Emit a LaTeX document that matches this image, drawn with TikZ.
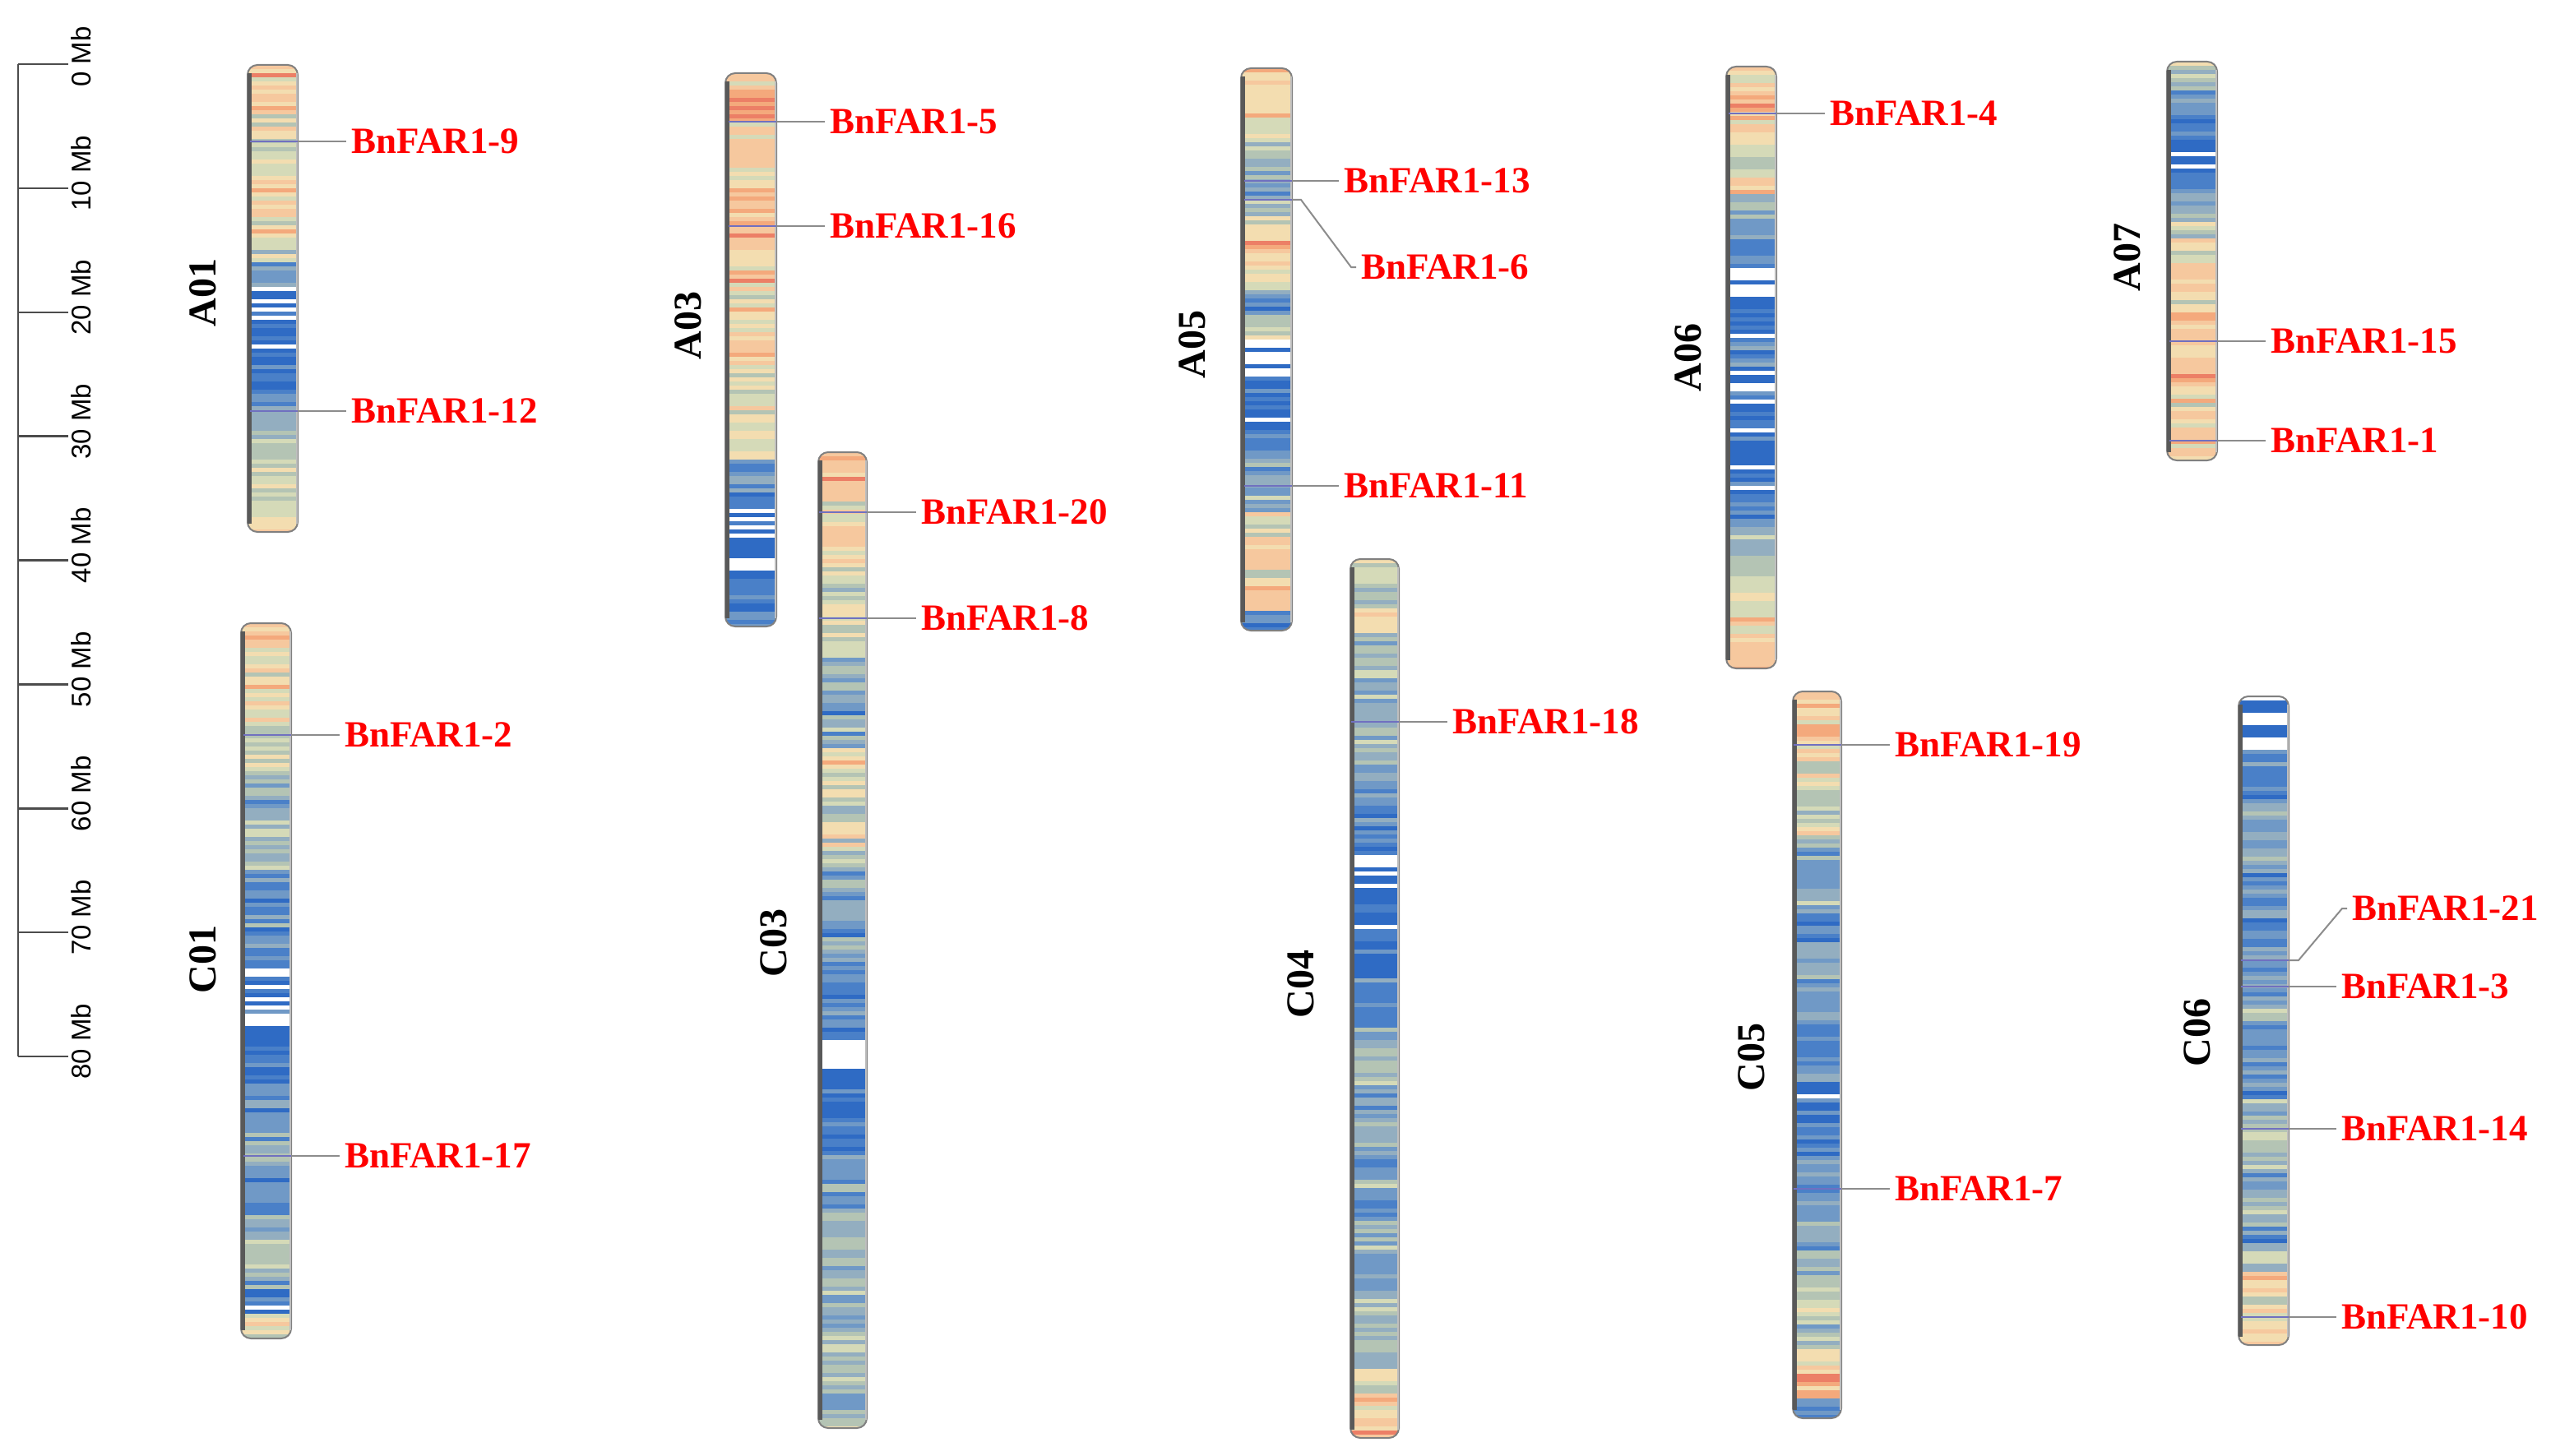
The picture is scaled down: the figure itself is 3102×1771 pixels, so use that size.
\documentclass[tikz,border=0pt]{standalone}
\usepackage{fontspec}
\setmainfont{Liberation Serif}
\newfontfamily\scalefnt{Liberation Sans}
\definecolor{t0}{HTML}{FFFFFF}
\definecolor{t1}{HTML}{2F6BC4}
\definecolor{t2}{HTML}{4A80C8}
\definecolor{t3}{HTML}{7099C6}
\definecolor{t4}{HTML}{93AEC0}
\definecolor{t5}{HTML}{B4C4B4}
\definecolor{t6}{HTML}{D5DAB8}
\definecolor{t7}{HTML}{F3DDB0}
\definecolor{t8}{HTML}{F6C89E}
\definecolor{t9}{HTML}{F4A97C}
\definecolor{t10}{HTML}{EC7F66}
\definecolor{genered}{HTML}{FF0000}
\definecolor{genemark}{HTML}{7070C0}
\tikzset{
  genelabel/.style={font=\fontsize{45}{50}\selectfont\bfseries, text=genered, anchor=west, inner xsep=6pt, inner ysep=2pt, outer sep=0pt},
  chromlabel/.style={font=\fontsize{48}{52}\selectfont\bfseries, rotate=90, inner sep=0pt},
  genelink/.style={draw=black!45, line width=2pt},
  genetick/.style={draw=genemark, line width=2pt},
  scaletxt/.style={font=\fontsize{33}{36}\selectfont\scalefnt, rotate=90, anchor=west, inner sep=0pt},
  scaleline/.style={draw=black!70, line width=2.5pt},
  chromedge/.style={draw=black!50, line width=2pt, rounded corners=12pt},
}
% #1 x0, #2 x1, #3 ytop, #4 ybot, #5 profile, #6 seed
\newcommand\chromosome[6]{%
  \foreach \tn [count=\n] in {#5} {\xdef\Lc{\n}}%
  \begin{scope}
    \pgfmathsetseed{#6}
    \clip[rounded corners=12pt] (#1,#3) rectangle (#2,#4);
    \pgfmathtruncatemacro\Nm{ceil((#4-#3)/5)-1}
    \foreach \i in {0,...,\Nm} {
      \pgfmathtruncatemacro\k{min(\Lc-1, floor(\i*\Lc/(\Nm+1)))}
      \pgfmathtruncatemacro\tn{{#5}[\k]}
      \pgfmathrandominteger{\r}{0}{19}
      \pgfmathtruncatemacro\jt{\r<1 ? -2 : (\r<5 ? -1 : (\r<15 ? 0 : (\r<19 ? 1 : 2)))}
      \pgfmathtruncatemacro\lo{\tn>=2 ? 1 : 0}
      \pgfmathtruncatemacro\cc{max(\lo,min(10,\tn+\jt))}
      \fill[t\cc] (#1,{#3+\i*5}) rectangle (#2,{#3+\i*5+5.4});
    }
  \end{scope}
  \draw[chromedge] (#1,#3) rectangle (#2,#4);
  \draw[black!65, line width=5pt] ({#1+2},{#3+10}) -- ({#1+2},{#4-10});
  \draw[black!25, line width=2pt] ({#2-1},{#3+10}) -- ({#2-1},{#4-10});
}
% #1 name, #2 chromosome x, #3 y, #4 text x, #5 text
\newcommand\gene[5]{%
  \coordinate (c#1) at (#2,#3);
  \coordinate (m#1) at ({#2-58},#3);
  \draw[genetick] (m#1) -- (c#1);
  \node[genelabel] (g#1) at ({#4-6},#3) {#5};
  \draw[genelink] (c#1) -- (g#1.west);
}
\begin{document}
\begin{tikzpicture}[x=1pt,y=-1pt]
\useasboundingbox (0,0) rectangle (3102,1771);
\fill[white] (0,0) rectangle (3102,1771);

% scale bar
\coordinate (s0) at (22,78);
\coordinate (s80) at (22,1285);
\draw[scaleline] (s0) -- (s80);
\foreach \k in {0,...,8} {
  \coordinate (tk\k) at (22,{78+\k*150.875});
  \coordinate (te\k) at (83,{78+\k*150.875});
  \draw[scaleline] (tk\k) -- (te\k);
  \pgfmathtruncatemacro\mb{\k*10}
  \node[scaletxt] (sl\k) at (99,{78+\k*150.875+28}) {\mb\ Mb};
}

% chromosomes
\chromosome{301}{362}{79}{647}{8,8,7,6,7,8,7,5,3,0,1,1,2,2,4,5,6,6,7}{11}
\chromosome{293}{354}{758}{1628}{8,7,7,6,5,6,5,4,5,4,3,2,3,2,0,1,1,2,2,3,3,4,3,3,4,5,4,1,7}{12}
\chromosome{882}{944}{89}{762}{8,9,8,8,7,9,8,7,8,7,7,8,7,6,7,6,3,2,0,1,0,2,2}{13}
\chromosome{995}{1054}{550}{1737}{8,8,7,8,7,6,6,5,4,4,3,4,7,6,5,6,5,4,4,3,4,3,2,2,0,1,2,2,2,3,3,4,5,4,5,4,5,5,4,5}{14}
\chromosome{1509}{1571}{83}{767}{8,7,6,5,4,4,7,8,6,2,5,0,1,2,1,3,4,4,6,8,7,8,2}{15}
\chromosome{1642}{1701}{680}{1749}{6,5,7,5,5,4,4,5,4,3,2,2,0,1,1,2,1,2,2,3,5,4,3,4,3,4,3,4,4,3,4,5,4,6,7,8}{16}
\chromosome{2099}{2160}{81}{813}{7,9,8,6,7,5,3,2,0,1,1,2,1,1,1,1,1,2,4,5,6,7,7,8}{17}
\chromosome{2180}{2239}{841}{1725}{7,8,7,6,5,6,4,3,4,3,3,4,3,3,2,3,1,2,2,2,3,3,4,4,5,6,5,7,8,3}{18}
\chromosome{2635}{2696}{75}{560}{5,3,2,1,1,4,5,7,8,7,8,7,8,7,8,8}{19}
\chromosome{2722}{2783}{847}{1636}{1,0,2,2,3,3,4,3,2,2,3,3,4,3,3,3,4,5,4,3,4,3,5,8,6,7}{20}

% chromosome labels
\node[chromlabel] (lA01) at (247,356) {A01};
\node[chromlabel] (lC01) at (247,1167) {C01};
\node[chromlabel] (lA03) at (837,396) {A03};
\node[chromlabel] (lC03) at (941,1147) {C03};
\node[chromlabel] (lA05) at (1450,419) {A05};
\node[chromlabel] (lC04) at (1582,1197) {C04};
\node[chromlabel] (lA06) at (2053,435) {A06};
\node[chromlabel] (lC05) at (2130,1286) {C05};
\node[chromlabel] (lA07) at (2587,313) {A07};
\node[chromlabel] (lC06) at (2672,1256) {C06};

% genes
\gene{9}{362}{172}{427}{BnFAR1-9}
\gene{12}{362}{500}{427}{BnFAR1-12}
\gene{2}{354}{894}{419}{BnFAR1-2}
\gene{17}{354}{1406}{419}{BnFAR1-17}
\gene{5}{944}{148}{1009}{BnFAR1-5}
\gene{16}{944}{275}{1009}{BnFAR1-16}
\gene{20}{1054}{623}{1120}{BnFAR1-20}
\gene{8}{1054}{752}{1120}{BnFAR1-8}
\gene{13}{1571}{220}{1634}{BnFAR1-13}
\gene{11}{1571}{591}{1634}{BnFAR1-11}
\gene{18}{1701}{878}{1766}{BnFAR1-18}
\gene{4}{2160}{138}{2225}{BnFAR1-4}
\gene{19}{2239}{906}{2304}{BnFAR1-19}
\gene{7}{2239}{1446}{2304}{BnFAR1-7}
\gene{15}{2696}{415}{2761}{BnFAR1-15}
\gene{1}{2696}{536}{2761}{BnFAR1-1}
\gene{3}{2783}{1200}{2847}{BnFAR1-3}
\gene{14}{2783}{1373}{2847}{BnFAR1-14}
\gene{10}{2783}{1602}{2847}{BnFAR1-10}

% bent connectors
\coordinate (c6) at (1571,243);
\coordinate (m6) at (1513,243);
\draw[genetick] (m6) -- (c6);
\coordinate (b6) at (1582,243);
\coordinate (d6) at (1643,325);
\node[genelabel] (g6) at (1649,325) {BnFAR1-6};
\draw[genelink] (c6) -- (b6) -- (d6) -- (g6.west);

\coordinate (c21) at (2783,1168);
\coordinate (m21) at (2725,1168);
\draw[genetick] (m21) -- (c21);
\coordinate (b21) at (2795,1168);
\coordinate (d21) at (2848,1105);
\node[genelabel] (g21) at (2854,1105) {BnFAR1-21};
\draw[genelink] (c21) -- (b21) -- (d21) -- (g21.west);
\end{tikzpicture}
\end{document}
